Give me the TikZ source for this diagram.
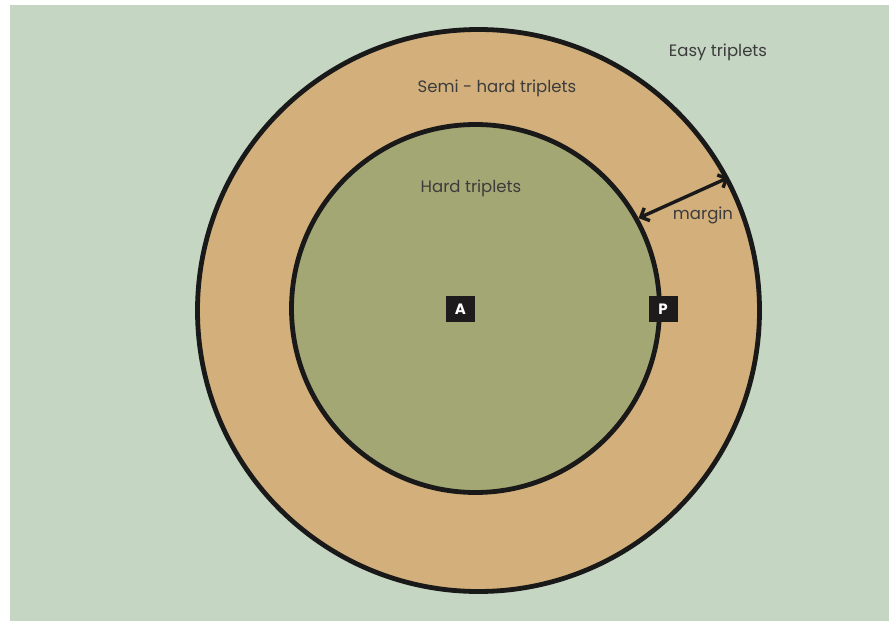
\documentclass[tikz,border=0pt]{standalone}
\usepackage{fontspec}
\setmainfont{Poppins}
\usetikzlibrary{arrows.meta}
\definecolor{bggreen}{HTML}{C5D6C3}
\definecolor{ringtan}{HTML}{D2AF7B}
\definecolor{innergreen}{HTML}{A3A773}
\definecolor{txtgray}{HTML}{3C3C3C}
\definecolor{boxblack}{HTML}{1E1B1C}
\tikzset{
  ring/.style={circle, inner sep=0pt, draw=black!90, line width=4.8pt},
  lbl/.style={text=txtgray, font=\fontsize{16.5}{19}\selectfont},
  tag/.style={fill=boxblack, text=white, font=\bfseries\fontsize{15}{17}\selectfont, minimum width=29pt, minimum height=26pt, inner sep=0pt},
  gap/.style={{Straight Barb[length=7pt,width=14pt]}-{Straight Barb[length=7pt,width=14pt]}, line width=3.4pt, draw=black!90}
}
\begin{document}
\begin{tikzpicture}[x=1pt,y=-1pt]
\useasboundingbox (0,0) rectangle (889,621);
\fill[white] (0,0) rectangle (889,621);
\fill[bggreen] (10,5) rectangle (889,621);
\node[ring, fill=ringtan, minimum size=562pt] (outer) at (478.5,310.5) {};
\node[ring, fill=innergreen, minimum size=368pt] (inner) at (475.5,308.5) {};
\node[lbl] (easy) at (718,52) {Easy triplets};
\node[lbl] (semi) at (497,88) {Semi - hard triplets};
\node[lbl] (hard) at (471,188) {Hard triplets};
\node[lbl] (marg) at (703,215) {margin};
\node[tag] (A) at (460.5,309) {A};
\node[tag] (P) at (663,309) {P};
\draw[gap] (inner.29.5) -- (outer.28.5);
\end{tikzpicture}
\end{document}
